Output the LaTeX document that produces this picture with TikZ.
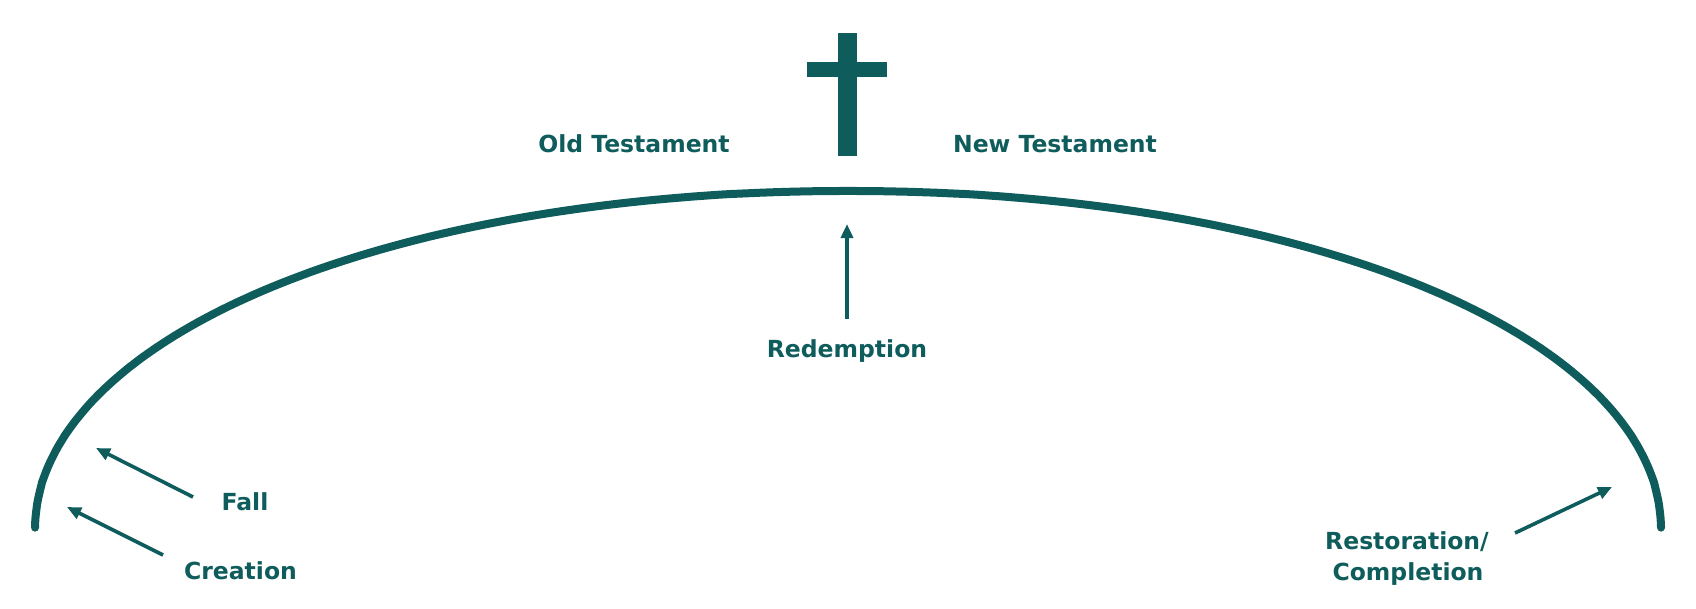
\documentclass[tikz,border=0pt]{standalone}
\usepackage{fontspec}
\setmainfont{DejaVu Sans}
\usetikzlibrary{arrows.meta}
\definecolor{teal}{HTML}{0F5C5C}
\tikzset{
  arcline/.style={draw=teal, line width=8pt, line cap=round},
  pointer/.style={draw=teal, line width=3.6pt, -{Triangle[length=14pt,width=12pt]}},
  lbl/.style={text=teal, anchor=base, inner sep=0pt, font=\fontsize{23.5}{28}\selectfont\bfseries},
  crossbar/.style={fill=teal, draw=none}
}
\begin{document}
\begin{tikzpicture}[x=1pt,y=-1pt]
\useasboundingbox (0,0) rectangle (1696,608);
% main arc
\draw[arcline] plot[domain=0.5:179.5, samples=200]
  ({848+813*(cos(\x)<0?-1:1)*abs(cos(\x))^0.9756}, {531-340*abs(sin(\x))^0.9756});
% cross
\fill[crossbar] (838,33) rectangle (857,156);
\fill[crossbar] (807,62) rectangle (887,77);
% labels
\node[lbl] (ot) at (634,152) {Old Testament};
\node[lbl] (nt) at (1055,152) {New Testament};
\node[lbl] (red) at (847,357) {Redemption};
\node[lbl] (fall) at (245,510) {Fall};
\node[lbl] (cre) at (240.5,579) {Creation};
\node[lbl] (rest) at (1407,549) {Restoration/};
\node[lbl] (comp) at (1408,580) {Completion};
% arrows
\coordinate (redTail) at (847,319);
\coordinate (redTip) at (847,224);
\coordinate (fallTail) at (193,497);
\coordinate (fallTip) at (96,448);
\coordinate (creTail) at (163,555);
\coordinate (creTip) at (67,507);
\coordinate (restTail) at (1515,533);
\coordinate (restTip) at (1612,487);
\draw[pointer] (redTail) -- (redTip);
\draw[pointer] (fallTail) -- (fallTip);
\draw[pointer] (creTail) -- (creTip);
\draw[pointer] (restTail) -- (restTip);
\end{tikzpicture}
\end{document}
